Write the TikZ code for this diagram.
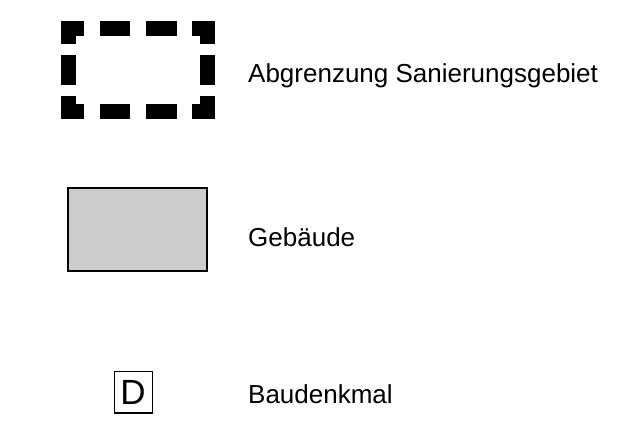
\documentclass[tikz,border=0pt]{standalone}
\usepackage{fontspec}
\setmainfont{Liberation Sans}
\begin{document}
\begin{tikzpicture}[x=1pt,y=-1pt,
  dashedge/.style={line width=15.5pt, line cap=butt, line join=miter, black},
  legendtext/.style={anchor=base west, inner sep=0pt, font=\fontsize{26}{31}\selectfont}]
\useasboundingbox (0,0) rectangle (638,422);
% dashed boundary symbol
\coordinate (tl) at (68.7,28.5);
\coordinate (tr) at (207.3,28.5);
\coordinate (bl) at (68.7,111.5);
\coordinate (br) at (207.3,111.5);
\draw[dashedge] (68.7,44) -- (tl) -- (84,28.5);
\draw[dashedge] (192,28.5) -- (tr) -- (207.3,44);
\draw[dashedge] (68.7,96) -- (bl) -- (84,111.5);
\draw[dashedge] (192,111.5) -- (br) -- (207.3,96);
\draw[dashedge] (100,28.5) -- (130,28.5);
\draw[dashedge] (146,28.5) -- (177,28.5);
\draw[dashedge] (100,111.5) -- (130,111.5);
\draw[dashedge] (146,111.5) -- (177,111.5);
\draw[dashedge] (68.7,55) -- (68.7,85);
\draw[dashedge] (207.3,55) -- (207.3,85);
\node[legendtext] (t1) at (248,83) {Abgrenzung Sanierungsgebiet};
% building
\draw[line width=2pt, fill=black!20] (68,188) rectangle (207,271);
\node[legendtext] (t2) at (248,247) {Gebäude};
% monument
\node[draw=black, line width=1pt, minimum width=38pt, minimum height=41pt, inner sep=0pt,
  font=\fontsize{35}{40}\selectfont] (d) at (133,392.5) {D};
\node[legendtext] (t3) at (248,403) {Baudenkmal};
\end{tikzpicture}
\end{document}
